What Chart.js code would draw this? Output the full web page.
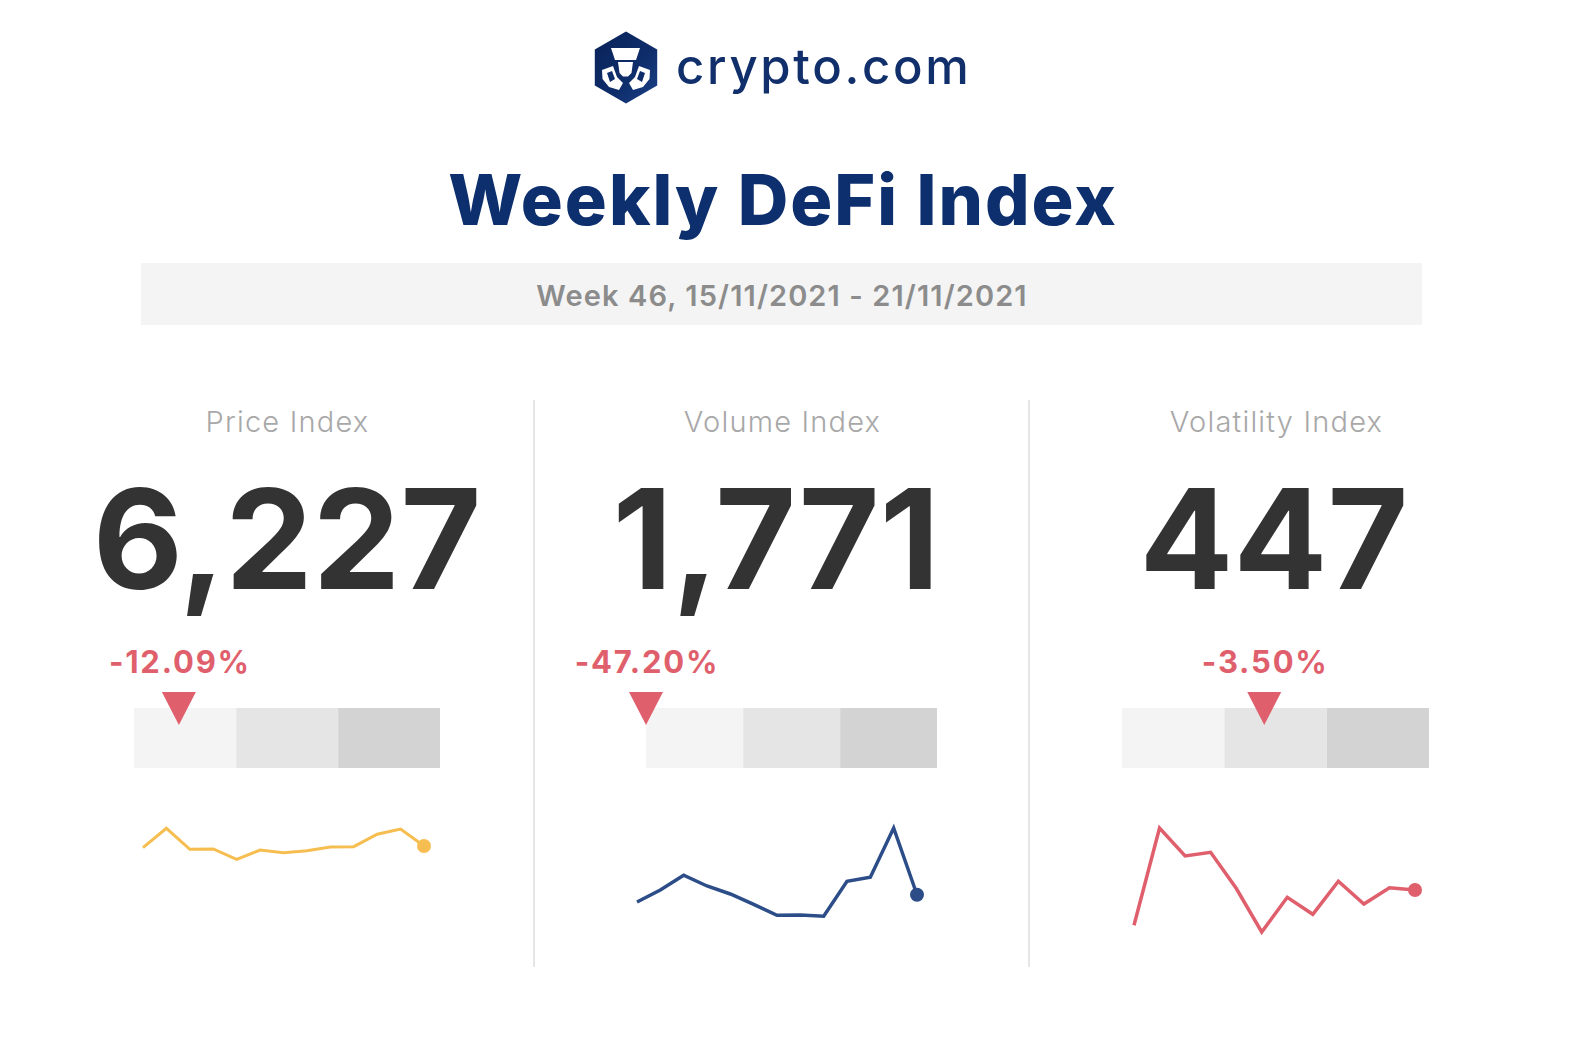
<!DOCTYPE html>
<html><head><meta charset="utf-8">
<script src="https://cdn.jsdelivr.net/npm/chart.js@4.4.1/dist/chart.umd.min.js"></script>
<style>
html,body{margin:0;padding:0;background:#fff;}
#page{position:relative;width:1588px;height:1038px;overflow:hidden;font-family:Inter,"Noto Sans",sans-serif;background:#fff;}
.t{position:absolute;white-space:nowrap;line-height:1;}
.c{transform:translateX(-50%);}
canvas{position:absolute;}
.div{position:absolute;width:2px;background:#e6e6e6;top:400px;height:567px;}
</style></head><body><div id="page">
<svg style="position:absolute;left:594px;top:31px" width="64" height="73" viewBox="0 0 64 73">
  <defs><linearGradient id="hg" x1="0" y1="0" x2="1" y2="1">
    <stop offset="0" stop-color="#0a2359"/><stop offset="0.6" stop-color="#0e2d6b"/><stop offset="1" stop-color="#1d438a"/></linearGradient></defs>
  <path d="M32 0.5 L63.2 18.5 L63.2 54.5 L32 72.5 L0.8 54.5 L0.8 18.5 Z" fill="url(#hg)"/>
  <path d="M17 17 L46 17 L42 29 L21 29 Z" fill="#fff"/>
  <path d="M24 31 L39 31 L37.5 42 L34 45.5 L29 45.5 L25.5 42 Z" fill="#fff"/>
  <path d="M8 39 L19 35 L23 46 L29 52 L25 59 L15 56 L8.5 48 Z" fill="#fff"/>
  <path d="M56 39 L45 35 L41 46 L35 52 L39 59 L49 56 L55.5 48 Z" fill="#fff"/>
  <path d="M13 42 L18 40 L21 48 L16 51 Z M51 42 L46 40 L43 48 L48 51 Z" fill="#0e2d6b"/>
</svg>
<div class="t" style="left:676px;top:42px;font-size:49px;font-weight:500;color:#11306b;letter-spacing:2.7px">crypto.com</div>
<div class="t c" style="left:783px;top:164.5px;font-size:70px;font-weight:800;color:#0d2f6e;letter-spacing:2px">Weekly DeFi Index</div>
<div style="position:absolute;left:141px;top:263px;width:1281px;height:62px;background:#f4f4f4"></div>
<div class="t c" style="left:782px;top:281px;font-size:29px;font-weight:600;color:#8c8c8c;letter-spacing:1.1px">Week 46, 15/11/2021 - 21/11/2021</div>
<div class="div" style="left:533px"></div>
<div class="div" style="left:1028px"></div>
<div id="texts"></div>
</div>
<script>
// ---- data ----
const panelTitles = ['Price Index', 'Volume Index', 'Volatility Index'];
const currentValues = ['6,227', '1,771', '447'];
const weeklyChanges = ['-12.09%', '-47.20%', '-3.50%'];
const weeks13 = ['W34','W35','W36','W37','W38','W39','W40','W41','W42','W43','W44','W45','W46'];
const weeks12 = ['W35','W36','W37','W38','W39','W40','W41','W42','W43','W44','W45','W46'];
const priceSeries = [6141, 7119, 6061, 6076, 5557, 6025, 5889, 5990, 6177, 6192, 6817, 7083, 6227];
const volumeSeries = [1598, 1883, 2232, 1978, 1788, 1543, 1282, 1289, 1258, 2089, 2184, 3354, 1771];
const volatilitySeries = [200, 881, 685, 711, 459, 153, 396, 277, 508, 349, 463, 447];
const gaugeSegments = [1, 1, 1];
const gaugeMarkers = [0.44, 0, 1.39];

// ---- layout / style ----
const page = document.getElementById('page');
const texts = document.getElementById('texts');
const titleCenters = [287.5, 782.5, 1276.5];
const numberCenters = [287, 776, 1274];
function addText(txt, left, top, css){
  const d = document.createElement('div');
  d.className = 't c'; d.textContent = txt;
  d.style.cssText += `left:${left}px;top:${top}px;` + css;
  texts.appendChild(d); return d;
}
for (let i=0;i<3;i++){
  addText(panelTitles[i], titleCenters[i], 406.5, 'font-size:29px;font-weight:300;color:#a8a8a8;letter-spacing:1.2px');
  addText(currentValues[i], numberCenters[i], 469, 'font-size:139px;font-weight:700;color:#333333');
}
function makeCanvas(left, top, w, h){
  const c = document.createElement('canvas');
  c.width = w; c.height = h;
  c.style.left = left+'px'; c.style.top = top+'px';
  c.style.width = w+'px'; c.style.height = h+'px';
  page.appendChild(c); return c;
}
const markerPlugin = {
  id: 'marker',
  afterDatasetsDraw(chart, args, opts){
    const x = chart.scales.x.getPixelForValue(opts.value);
    const top = chart.chartArea.top;
    const ctx = chart.ctx;
    ctx.save(); ctx.fillStyle = opts.color;
    ctx.beginPath(); ctx.moveTo(x-17, top-16); ctx.lineTo(x+17, top-16); ctx.lineTo(x, top+17);
    ctx.closePath(); ctx.fill(); ctx.restore();
  }
};
const gaugeColors = ['#f4f4f4', '#e5e5e5', '#d3d3d3'];
const gaugeBoxes = [ // canvas left, width, pad left, pad right
  [40, 494, 94, 94], [534, 495, 112, 92], [1029, 495, 93, 95]
];
gaugeBoxes.forEach((b, i) => {
  const cv = makeCanvas(b[0], 688, b[1], 82);
  const ch = new Chart(cv, {
    type: 'bar',
    data: { labels: ['gauge'], datasets: gaugeSegments.map((s, k) => ({
      data: [s], backgroundColor: gaugeColors[k], borderWidth: 0, barPercentage: 1, categoryPercentage: 1
    })) },
    options: {
      indexAxis: 'y', responsive: false, animation: false, events: [],
      layout: { padding: { left: b[2], right: b[3], top: 20, bottom: 2 } },
      scales: { x: { stacked: true, min: 0, max: 3, display: false }, y: { stacked: true, display: false } },
      plugins: { legend: { display: false }, tooltip: { enabled: false },
        marker: { value: gaugeMarkers[i], color: '#e05f6c' } }
    },
    plugins: [markerPlugin]
  });
  const mx = b[0] + ch.scales.x.getPixelForValue(gaugeMarkers[i]);
  addText(weeklyChanges[i], mx + 1, 646, 'font-size:31px;font-weight:700;color:#e05f6c;letter-spacing:1.8px');
});

const sparks = [
  { labels: weeks13, data: priceSeries, min: 5017, max: 7537, color: '#f6be50', left: 131, w: 305, h: 74, bw: 3 },
  { labels: weeks13, data: volumeSeries, min: 1052, max: 3544, color: '#2c4d88', left: 625, w: 304, h: 129, bw: 3.5 },
  { labels: weeks12, data: volatilitySeries, min: 97, max: 937, color: '#df5f6c', left: 1122, w: 305, h: 144, bw: 3.5 }
];
sparks.forEach(s => {
  const cv = makeCanvas(s.left, 808, s.w, s.h);
  const last = s.data.length - 1;
  new Chart(cv, {
    type: 'line',
    data: { labels: s.labels, datasets: [{
      data: s.data, borderColor: s.color, backgroundColor: s.color, borderWidth: s.bw,
      tension: 0, clip: false, pointBorderWidth: 0,
      pointRadius: ctx => ctx.dataIndex === last ? 7 : 0,
      pointBackgroundColor: s.color
    }] },
    options: {
      responsive: false, animation: false, events: [],
      layout: { padding: 12 },
      scales: { x: { display: false, offset: false }, y: { display: false, min: s.min, max: s.max } },
      plugins: { legend: { display: false }, tooltip: { enabled: false } }
    }
  });
});
</script>
</body></html>
